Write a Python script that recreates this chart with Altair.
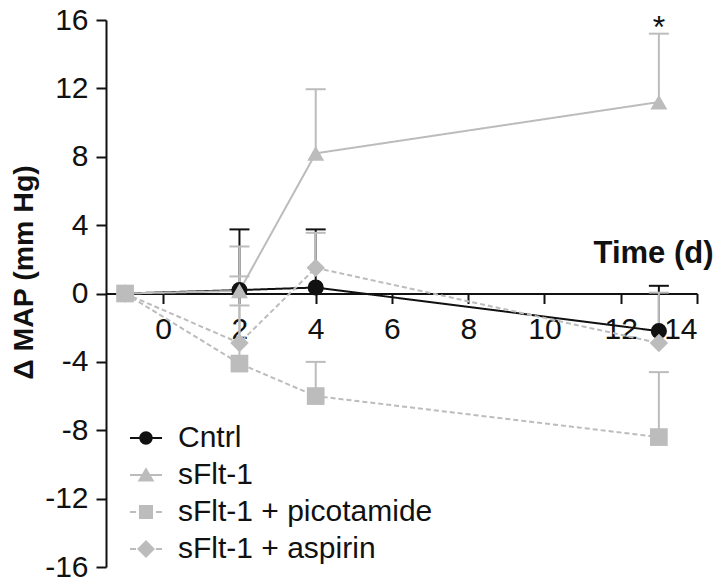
import altair as alt
import pandas as pd

# ---- data ----
days = [-1, 2, 4, 13]
groups = ["Cntrl", "sFlt-1", "sFlt-1 + picotamide", "sFlt-1 + aspirin"]
cntrl_mean = [0.0, 0.2, 0.35, -2.2]
cntrl_sem = [0.0, 3.55, 3.4, 2.65]
sflt_mean = [0.0, 0.15, 8.2, 11.2]
sflt_sem = [0.0, 2.6, 3.75, 4.0]
pico_mean = [0.0, -4.1, -6.0, -8.4]
pico_sem = [0.0, 3.4, 2.0, 3.8]
asp_mean = [0.0, -2.9, 1.5, -2.9]
asp_sem = [0.0, 3.9, 2.05, 2.95]
x_ticks = [0, 2, 4, 6, 8, 10, 12, 14]
y_ticks = [-16, -12, -8, -4, 0, 4, 8, 12, 16]
star_group = "sFlt-1"
star_day = 13

means = [cntrl_mean, sflt_mean, pico_mean, asp_mean]
sems = [cntrl_sem, sflt_sem, pico_sem, asp_sem]
rows = []
for g, m, s in zip(groups, means, sems):
    for d, mv, sv in zip(days, m, s):
        rows.append({"group": g, "day": d, "mean": mv, "sem": sv, "upper": mv + sv})
df = pd.DataFrame(rows)

# ---- styles ----
FONT = "Liberation Sans"
BLACK = "#111111"
GREY = "#bcbcbc"
colors = [BLACK, GREY, GREY, GREY]
dashes = [[1, 0], [1, 0], [5, 3], [5, 3]]
shapes = ["circle", "triangle-up", "square", "diamond"]
sizes = [260, 340, 310, 430]

stub = "M-1,-0.06H1V0.06H-1Z"
dstub = "M-1,-0.06H-0.62V0.06H-1Z M0.62,-0.06H1V0.06H0.62Z"
legend_paths = [
    stub + " M-0.42,0A0.42,0.42 0 1,1 0.42,0A0.42,0.42 0 1,1 -0.42,0Z",
    stub + " M0,-0.48L0.52,0.4L-0.52,0.4Z",
    dstub + " M-0.44,-0.44H0.44V0.44H-0.44Z",
    dstub + " M0,-0.56L0.56,0L0,0.56L-0.56,0Z",
]

def cscale():
    return alt.Scale(domain=groups, range=colors)

x_enc = alt.X(
    "day:Q",
    scale=alt.Scale(domain=[-1.5, 14], nice=False, zero=False),
    axis=alt.Axis(
        values=x_ticks, orient="bottom", offset=-273.5, title="Time (d)",
        titleAngle=0, titleAlign="right", titleBaseline="alphabetic",
        titleX=607, titleY=-31, labelPadding=11, titleFontSize=31,
    ),
)
y_enc = alt.Y(
    "mean:Q",
    scale=alt.Scale(domain=[-16, 16], nice=False, zero=False),
    axis=alt.Axis(
        values=y_ticks, title="\u0394 MAP (mm Hg)",
        labelExpr="datum.value < 0 ? '-' + abs(datum.value) : '' + datum.value",
        titleAngle=-90, titleAlign="center", titleBaseline="alphabetic",
        titleX=-74, titleY=252, labelPadding=8, titleFontSize=28.5,
    ),
)

base = alt.Chart(df)

lines = base.mark_line(strokeWidth=2).encode(
    x=x_enc, y=y_enc,
    color=alt.Color("group:N", scale=cscale(), legend=None),
    strokeDash=alt.StrokeDash("group:N", scale=alt.Scale(domain=groups, range=dashes), legend=None),
    detail="group:N",
)

err = base.transform_filter("datum.sem > 0")
rules = err.mark_rule(strokeWidth=2, opacity=1).encode(
    x="day:Q", y="mean:Q", y2="upper:Q",
    color=alt.Color("group:N", scale=cscale(), legend=None),
)
caps = err.mark_tick(thickness=2, size=20, orient="horizontal", opacity=1).encode(
    x="day:Q", y="upper:Q",
    color=alt.Color("group:N", scale=cscale(), legend=None),
)

points = base.mark_point(filled=True, opacity=1).encode(
    x="day:Q", y="mean:Q",
    color=alt.Color("group:N", scale=cscale(), legend=None),
    shape=alt.Shape("group:N", scale=alt.Scale(domain=groups, range=shapes), legend=None),
    size=alt.Size("group:N", scale=alt.Scale(domain=groups, range=sizes), legend=None),
)

leg = alt.Legend(
    title=None, orient="none", legendX=24, legendY=402,
    labelFont=FONT, labelFontSize=30, labelColor=BLACK, labelOffset=16,
    symbolSize=1024, symbolStrokeWidth=0, symbolOpacity=1, rowPadding=6, padding=0,
    labelLimit=400,
)
# legend-only layer: no marks drawn, entries come from the explicit scale domain
legend_layer = base.transform_filter("false").mark_point(filled=True, opacity=1).encode(
    x="day:Q", y="mean:Q",
    color=alt.Color("group:N", scale=cscale(), legend=leg),
    shape=alt.Shape("group:N", scale=alt.Scale(domain=groups, range=legend_paths), legend=leg),
)

star = base.transform_filter(
    alt.FieldEqualPredicate(field="group", equal=star_group)
).transform_filter(
    alt.FieldEqualPredicate(field="day", equal=star_day)
).mark_text(text="*", font=FONT, fontSize=32, color=BLACK, baseline="alphabetic", dy=4).encode(
    x="day:Q", y="upper:Q"
)

chart = alt.layer(lines, rules, caps, points, legend_layer, star).resolve_scale(
    color="independent", shape="independent", size="independent", strokeDash="independent"
).properties(
    width=591, height=547,
    autosize=alt.AutoSizeParams(type="none"),
    padding={"left": 98, "top": 12, "right": 17, "bottom": 16},
).configure_view(stroke=None).configure_axis(
    grid=False, domainColor=BLACK, domainWidth=2, tickColor=BLACK, tickWidth=2,
    tickSize=10, labelFont=FONT, labelFontSize=30, labelColor=BLACK,
    titleFont=FONT, titleFontWeight="bold", titleColor=BLACK,
)

chart.save("out.html", embed_options={"renderer": "svg", "actions": False})
